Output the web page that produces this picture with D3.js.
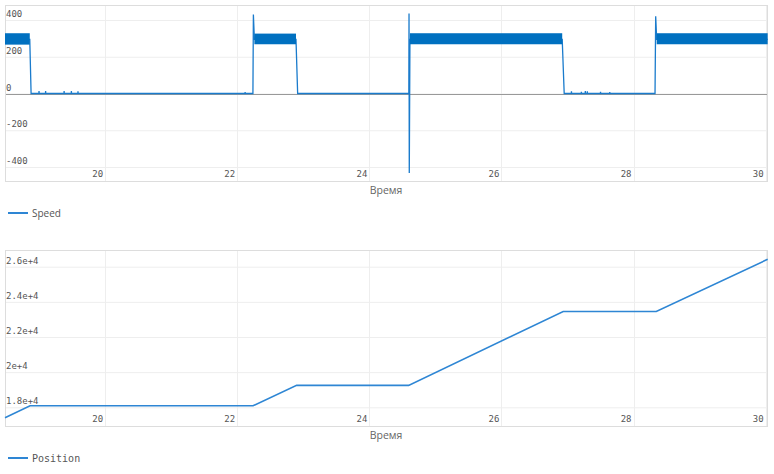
<!DOCTYPE html>
<html>
<head>
<meta charset="utf-8">
<script src="https://cdn.jsdelivr.net/npm/d3@7"></script>
<style>
  body { margin: 0; background: #fff; }
  .tick-label { font-family: "DejaVu Sans Mono", monospace; font-size: 9px; fill: #555; }
  .axis-title { font-family: "Open Sans", sans-serif; font-size: 10.5px; fill: #666; }
</style>
</head>
<body>
<div class="svg_area"></div>
<script>
// time ticks shared by both charts
var timeTicks = [20, 22, 24, 26, 28, 30];

// Speed: main line (key points, spikes included)
var speedTime = [18.485, 18.86, 18.88, 18.998, 19.0, 19.002, 19.098, 19.10, 19.102, 19.378, 19.38, 19.382,
  19.488, 19.49, 19.492, 19.588, 19.59, 19.592, 22.118, 22.12, 22.122, 22.238, 22.245, 22.26, 22.89, 22.915,
  24.598, 24.601, 24.605, 24.615, 26.92, 26.95, 27.058, 27.06, 27.062, 27.208, 27.21, 27.212, 27.268, 27.27,
  27.272, 27.298, 27.30, 27.302, 27.498, 27.50, 27.502, 27.638, 27.64, 27.642, 28.325, 28.335, 28.35, 30.03];
var speedValue = [295, 295, 0, 0, 14, 0, 0, 13, 0, 0, 14, 0,
  0, 13, 0, 0, 12, 0, 0, 8, 0, 0, 430, 295, 295, 0,
  0, 436, -432, 295, 295, 0, 0, 12, 0, 0, 10, 0, 0, 13, 0, 0, 12, 0, 0, 9, 0, 0, 8, 0, 0, 420, 295, 295];

// Speed: noisy band segments (envelope of the oscillation)
var bandStart = [18.485, 22.26, 24.615, 28.35];
var bandEnd = [18.86, 22.89, 26.92, 30.03];
var bandLow = [266, 268, 268, 268];
var bandHigh = [328, 326, 328, 328];

// Position
var posTime = [18.485, 18.864, 22.24, 22.90, 24.595, 26.935, 28.344, 30.03];
var posValue = [17410, 18090, 18090, 19250, 19250, 23450, 23450, 26420];

var speedTicks = [-400, -200, 0, 200, 400];
var speedTickLabels = ["-400", "-200", "0", "200", "400"];
var posTicks = [18000, 20000, 22000, 24000, 26000];
var posTickLabels = ["1.8e+4", "2e+4", "2.2e+4", "2.4e+4", "2.6e+4"];

var svgWidth = 774;
var svgHeight = 474;

var svg = d3.select(".svg_area")
  .append("svg")
  .attr("width", svgWidth)
  .attr("height", svgHeight);

var left = 5, right = 767;

function drawChart(cfg) {
  var x = d3.scaleLinear().domain([18.485, 30.02]).range([left, right]);
  var y = d3.scaleLinear().domain(cfg.yDomain).range([cfg.bottom, cfg.top]);
  var g = svg.append("g");

  // horizontal grid
  g.selectAll(".hgrid").data(cfg.yTicks).enter().append("line")
    .attr("x1", left).attr("x2", right)
    .attr("y1", d => y(d) + 0.5).attr("y2", d => y(d) + 0.5)
    .attr("stroke", "#eee");

  // vertical grid
  g.selectAll(".vgrid").data(timeTicks).enter().append("line")
    .attr("x1", d => Math.round(x(d)) + 0.5).attr("x2", d => Math.round(x(d)) + 0.5)
    .attr("y1", cfg.top).attr("y2", cfg.bottom)
    .attr("stroke", "#eee");

  if (cfg.zeroLine) {
    g.append("line")
      .attr("x1", left).attr("x2", right)
      .attr("y1", Math.round(y(0)) + 0.5).attr("y2", Math.round(y(0)) + 0.5)
      .attr("stroke", "#999");
  }

  // frame
  g.append("rect")
    .attr("x", left + 0.5).attr("y", cfg.top + 0.5)
    .attr("width", right - left).attr("height", cfg.bottom - cfg.top)
    .attr("fill", "none").attr("stroke", "#ddd");

  // y tick labels
  g.selectAll(".ylab").data(cfg.yTicks).enter().append("text")
    .attr("class", "tick-label")
    .attr("x", 6)
    .attr("y", d => y(d) - 3)
    .text((d, i) => cfg.yTickLabels[i]);

  // x tick labels
  g.selectAll(".xlab").data(timeTicks).enter().append("text")
    .attr("class", "tick-label")
    .attr("text-anchor", "end")
    .attr("x", d => x(d) - 2)
    .attr("y", cfg.bottom - 4)
    .text(d => d);

  g.append("text")
    .attr("class", "axis-title")
    .attr("text-anchor", "middle")
    .attr("x", (left + right) / 2)
    .attr("y", cfg.bottom + 13)
    .text("Время");

  // legend
  g.append("line")
    .attr("x1", 8).attr("x2", 28)
    .attr("y1", cfg.legendY).attr("y2", cfg.legendY)
    .attr("stroke", cfg.color).attr("stroke-width", 2);
  g.append("text")
    .attr("x", 32).attr("y", cfg.legendY + 4)
    .style("font-family", cfg.legendFont)
    .style("font-size", "10px")
    .attr("fill", "#555")
    .text(cfg.name);

  return { g: g, x: x, y: y };
}

// ---- Speed chart
var sp = drawChart({
  top: 5, bottom: 181, yDomain: [-476, 481.6],
  yTicks: speedTicks, yTickLabels: speedTickLabels,
  zeroLine: true, legendY: 213, name: "Speed",
  legendFont: "'Open Sans', sans-serif", color: "#2e86d4"
});

var speedLine = d3.line()
  .x((d, i) => sp.x(speedTime[i]))
  .y(d => sp.y(d));

sp.g.append("path")
  .attr("d", speedLine(speedValue))
  .attr("fill", "none")
  .attr("stroke", "#1a7bcc")
  .attr("stroke-width", 1.3);

sp.g.selectAll(".band").data(bandStart).enter().append("rect")
  .attr("x", d => sp.x(d))
  .attr("width", (d, i) => sp.x(bandEnd[i]) - sp.x(d))
  .attr("y", (d, i) => sp.y(bandHigh[i]))
  .attr("height", (d, i) => sp.y(bandLow[i]) - sp.y(bandHigh[i]))
  .attr("fill", "#0070c0");

// ---- Position chart
var ps = drawChart({
  top: 250, bottom: 426, yDomain: [16938, 26949],
  yTicks: posTicks, yTickLabels: posTickLabels,
  zeroLine: false, legendY: 458, name: "Position",
  legendFont: "'DejaVu Sans Mono', monospace", color: "#2e86d4"
});

var posLine = d3.line()
  .x((d, i) => ps.x(posTime[i]))
  .y(d => ps.y(d));

ps.g.append("path")
  .attr("d", posLine(posValue))
  .attr("fill", "none")
  .attr("stroke", "#2e86d4")
  .attr("stroke-width", 1.6);
</script>
</body>
</html>
